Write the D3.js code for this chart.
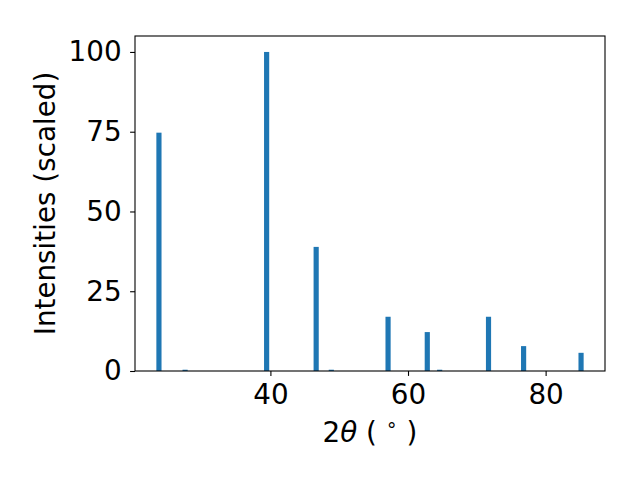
<!DOCTYPE html>
<html>
<head>
<meta charset="utf-8">
<script src="https://cdn.jsdelivr.net/npm/d3@7"></script>
<style>
  body { margin: 0; background: #fff; }
  svg text { font-family: "DejaVu Sans", sans-serif; fill: #000; }
</style>
</head>
<body>
<svg id="chart" width="640" height="480"></svg>
<script>
// peak positions (2-theta, degrees) and scaled intensities
const twoTheta = [23.8, 27.6, 39.45, 46.65, 48.85, 57.1, 62.8, 64.6, 71.7, 76.8, 85.15];
const intensity = [74.7, 0.4, 100, 38.9, 0.4, 17.0, 12.2, 0.4, 17.0, 7.8, 5.7];
const xTicks = [40, 60, 80];
const yTicks = [0, 25, 50, 75, 100];

const BAR_W = 0.75;   // bar width in data units
const FS = 27.8;      // 20pt at 100 dpi
const margin = { left: 135, right: 35, top: 36, bottom: 109 };
const W = 640, H = 480;

const svg = d3.select("#chart");
const plotW = W - margin.left - margin.right;
const plotH = H - margin.top - margin.bottom;

// matplotlib-like 5% margins around the bars
const lo = d3.min(twoTheta) - BAR_W / 2, hi = d3.max(twoTheta) + BAR_W / 2;
const pad = (hi - lo) * 0.05;
const x = d3.scaleLinear().domain([lo - pad, hi + pad]).range([margin.left, margin.left + plotW]);
const y = d3.scaleLinear().domain([0, 105]).range([margin.top + plotH, margin.top]);

const data = twoTheta.map((t, i) => ({ t, v: intensity[i] }));

svg.append("g").selectAll("rect")
  .data(data).join("rect")
  .attr("x", d => x(d.t - BAR_W / 2))
  .attr("width", d => x(d.t + BAR_W / 2) - x(d.t - BAR_W / 2))
  .attr("y", d => y(d.v))
  .attr("height", d => y(0) - y(d.v))
  .attr("fill", "#1f77b4");

// axes
const xAxis = svg.append("g")
  .attr("transform", `translate(0,${margin.top + plotH})`)
  .call(d3.axisBottom(x).tickValues(xTicks).tickSize(4.9).tickPadding(8).tickSizeOuter(0));
const yAxis = svg.append("g")
  .attr("transform", `translate(${margin.left},0)`)
  .call(d3.axisLeft(y).tickValues(yTicks).tickSize(4.9).tickPadding(8.5).tickSizeOuter(0));

[xAxis, yAxis].forEach(g => {
  g.select(".domain").remove();
  g.selectAll("line").attr("stroke", "#000").attr("stroke-width", 1.1);
  g.selectAll("text").style("font-size", FS + "px").attr("fill", "#000");
});

// frame
svg.append("rect")
  .attr("x", margin.left).attr("y", margin.top)
  .attr("width", plotW).attr("height", plotH)
  .attr("fill", "none").attr("stroke", "#000").attr("stroke-width", 1.1);

// axis labels
const xl = svg.append("text")
  .attr("x", margin.left + plotW / 2).attr("y", 441.5)
  .attr("text-anchor", "middle").style("font-size", FS + "px");
xl.append("tspan").text("2");
xl.append("tspan").style("font-style", "oblique").text("θ");
xl.append("tspan").text(" ( ");
xl.append("tspan").attr("dy", -11).style("font-size", "19px").text("∘");
xl.append("tspan").attr("dy", 11).text(" )");

svg.append("text")
  .attr("transform", `translate(55,${margin.top + plotH / 2}) rotate(-90)`)
  .attr("text-anchor", "middle").style("font-size", FS + "px")
  .text("Intensities (scaled)");
</script>
</body>
</html>
